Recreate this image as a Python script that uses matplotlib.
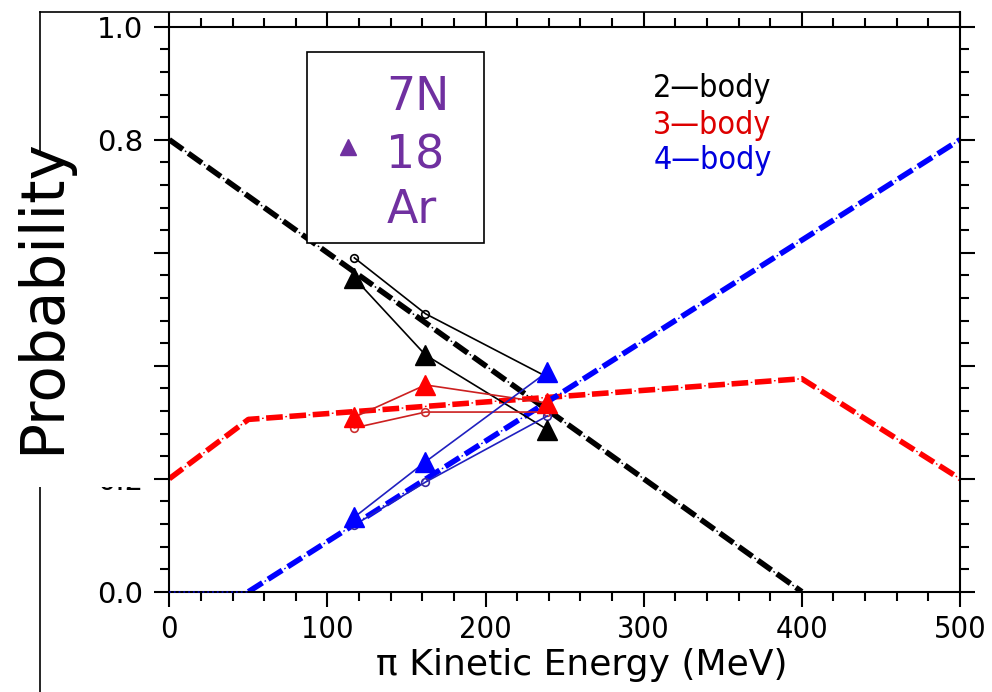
import matplotlib
matplotlib.use('Agg')
import numpy as np
import matplotlib.pyplot as plt
from matplotlib.lines import Line2D
from matplotlib.patches import Rectangle

# model curves (piecewise linear)
two_body_x = [0, 400]
two_body_y = [0.8, 0.0]
three_body_x = [0, 50, 400, 500]
three_body_y = [0.2, 0.305, 0.377, 0.2]
four_body_x = [0, 50, 500]
four_body_y = [0.0, 0.0, 0.8]

# measured points
energy = [117, 162, 239]
two_tri = [0.555, 0.419, 0.287]
two_circ = [0.591, 0.492, 0.38]
three_tri = [0.309, 0.366, 0.334]
three_circ = [0.29, 0.318, 0.318]
four_tri = [0.132, 0.23, 0.389]
four_circ = [0.118, 0.194, 0.311]

body_labels = ['2\u2014body', '3\u2014body', '4\u2014body']
target_lines = ['7N', '18', 'Ar']
xticks = [0, 100, 200, 300, 400, 500]
yticks = [0.0, 0.2, 0.4, 0.6, 0.8, 1.0]

fig = plt.figure(figsize=(9.92, 6.92), dpi=100)
ax = fig.add_axes([0.1707, 0.1449, 0.797, 0.8165])
ax.set_xlim(0, 500)
ax.set_ylim(0, 1)


def model_line(xs, ys, c):
    # thick dashes with a thin dot in every gap
    ax.plot(xs, ys, color=c, lw=4, dashes=(3, 1.2), zorder=2)
    ax.plot(xs, ys, color=c, lw=1, linestyle=(3.0, (1.2, 15.6)), zorder=2)


model_line(two_body_x, two_body_y, 'black')
model_line(three_body_x, three_body_y, '#ff0000')
ax.plot(four_body_x[:2], four_body_y[:2], color='#0000aa', lw=1.3, ls=':',
        zorder=6, clip_on=False)
model_line(four_body_x[1:], four_body_y[1:], '#0000ff')

# data
series = [(two_tri, two_circ, 'black', 'black', 'black'),
          (three_tri, three_circ, '#cc2020', '#ff0000', '#cc3030'),
          (four_tri, four_circ, '#2020c0', '#0000ff', '#3a2aa0')]
for tri, circ, lc, tc, cc in series:
    ax.plot(energy, circ, '-o', color=lc, lw=1.2, ms=5.5, mfc='none', mec=cc, mew=1.2, zorder=3)
    ax.plot(energy, tri, '-', color=lc, lw=1.2, zorder=3)
    ax.plot(energy, tri, '^', color=tc, ms=14, zorder=4)

# ticks
ax.set_xticks(xticks)
ax.set_xticks(np.arange(0, 501, 20), minor=True)
ax.set_yticks(yticks)
ax.set_yticks(np.arange(0, 1.001, 0.04), minor=True)
ax.set_xticklabels([str(v) for v in xticks], fontsize=22, fontstretch='condensed')
ax.set_yticklabels(['%.1f' % v for v in yticks], fontsize=21)
ax.tick_params(which='both', direction='out', top=True, right=True, width=1.5,
               color='black')
ax.tick_params(which='major', length=11)
ax.tick_params(which='minor', length=6.5)
ax.tick_params(axis='x', pad=6)
ax.tick_params(axis='y', pad=8)
for s in ax.spines.values():
    s.set_linewidth(1.5)

# target legend box
ax.add_patch(Rectangle((0.1745, 0.6166), 0.2239, 0.3381, transform=ax.transAxes,
                       facecolor='white', edgecolor='black', lw=1.2, zorder=5))
ax.plot([0.2256], [0.7876], '^', color='#7030a0', ms=11, transform=ax.transAxes, zorder=6)
for t, yb in zip(target_lines, [0.8526, 0.7499, 0.6526]):
    ax.text(0.2745, yb, t, transform=ax.transAxes, fontsize=33, color='#7030a0',
            ha='left', va='baseline', zorder=7)

# model labels
for t, c, yb in zip(body_labels, ['black', '#dd0000', '#0000dd'], [0.8756, 0.8101, 0.7481]):
    ax.text(0.612, yb, t, transform=ax.transAxes, fontsize=23, color=c,
            ha='left', va='baseline', fontstretch='condensed')

# outer frame and label patch
fig.add_artist(Line2D([0.0403, 0.0403], [0.0, 0.9827], color='black', lw=1.2, zorder=4))
fig.add_artist(Line2D([0.0403, 0.9677], [0.9827, 0.9827], color='black', lw=1.2, zorder=4))
fig.add_artist(Line2D([0.9677, 0.9677], [0.9614, 0.9827], color='black', lw=1.5, zorder=4))
fig.add_artist(Rectangle((0.0, 0.2962), 0.150, 0.4827, transform=fig.transFigure,
                         facecolor='white', edgecolor='none', zorder=5))
fig.text(0.0433, 0.5715, 'Probability', rotation=90, ha='center', va='center',
         fontsize=43, zorder=7)
fig.text(0.5862, 0.039, '\u03c0 Kinetic Energy (MeV)', ha='center', va='center',
         fontsize=26)

fig.savefig('out.png', dpi=100)
